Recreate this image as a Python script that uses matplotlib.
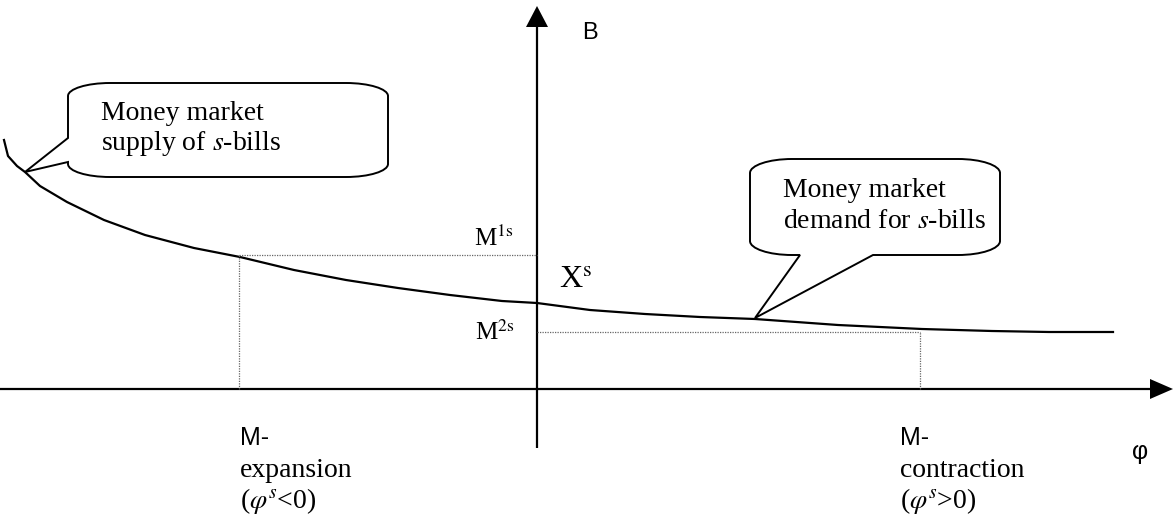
import matplotlib
matplotlib.use("Agg")
import matplotlib.pyplot as plt
from matplotlib.path import Path
from matplotlib.patches import PathPatch

plt.rcParams['mathtext.fontset'] = 'stix'

# ---- data (phi to the right of the B axis, B above the phi axis, in pixel-like units)
curve_phi = [-533, -529, -520, -512, -497, -470, -433, -392, -343, -297, -243, -191, -139,
             -87, -35, 0, 53, 108, 163, 218, 301, 385, 455, 512, 576]
curve_B = [249, 233, 223, 217, 203, 187, 169, 154, 141, 132, 119, 109, 101,
           94, 88, 86, 79, 75, 72, 70, 64, 60, 58, 57, 57]
phi_expansion = -298      # M-expansion point
phi_contraction = 383     # M-contraction point
B_M1 = 134                # M^1s level
B_M2 = 57                 # M^2s level

callout_left = ["Money market", "supply of $s$-bills"]
callout_right = ["Money market", "demand for $s$-bills"]
label_expansion = ["M-", "expansion", r"($\varphi^{s}$<0)"]
label_contraction = ["M-", "contraction", r"($\varphi^{s}$>0)"]

W, H = 1176, 518
OX, OY = 537, 389  # pixel position of origin


def p(x, y):
    """pixel (x right, y down) -> data coordinates"""
    return (x - OX, OY - y)


fig = plt.figure(figsize=(W / 100, H / 100), dpi=100)
ax = fig.add_axes([0, 0, 1, 1])
ax.set_xlim(-OX, W - OX)
ax.set_ylim(OY - H, OY)
ax.axis('off')

SERIF = 'Liberation Serif'
SANS = 'Liberation Sans'

# axes with arrow heads
ax.plot([-OX, 615], [0, 0], color='black', lw=1.6, solid_capstyle='butt')
ax.plot([0, 0], [-59, 362], color='black', lw=1.6, solid_capstyle='butt')
ax.fill([613, 613, 636], [10, -10, 0], color='black', lw=0)
ax.fill([-11, 11, 0], [362, 362, 383], color='black', lw=0)

# curve
ax.plot(curve_phi, curve_B, color='black', lw=1.6, solid_joinstyle='round')

# dotted guides
dot = dict(color='#666666', lw=0.9, linestyle=(0, (1, 1)))
ax.plot([phi_expansion, 0], [B_M1, B_M1], **dot)
ax.plot([phi_expansion, phi_expansion], [0, B_M1], **dot)
ax.plot([0, phi_contraction], [B_M2, B_M2], **dot)
ax.plot([phi_contraction, phi_contraction], [0, B_M2], **dot)


def corner(x0, y0, x1, y1, vertical_first):
    k = 0.55
    if vertical_first:
        c1 = (x0, y0 + (y1 - y0) * k)
        c2 = (x1 - (x1 - x0) * k, y1)
    else:
        c1 = (x0 + (x1 - x0) * k, y0)
        c2 = (x1, y1 - (y1 - y0) * k)
    return [c1, c2, (x1, y1)]


def callout_left_path(L, T, R, Bt, rx, ry, pb1, tip, pb2):
    verts, codes = [], []
    verts.append((L, T + ry)); codes.append(Path.MOVETO)
    verts += corner(L, T + ry, L + rx, T, True); codes += [Path.CURVE4] * 3
    verts.append((R - rx, T)); codes.append(Path.LINETO)
    verts += corner(R - rx, T, R, T + ry, False); codes += [Path.CURVE4] * 3
    verts.append((R, Bt - ry)); codes.append(Path.LINETO)
    verts += corner(R, Bt - ry, R - rx, Bt, True); codes += [Path.CURVE4] * 3
    verts.append((L + rx, Bt)); codes.append(Path.LINETO)
    verts += corner(L + rx, Bt, L, Bt - ry, False); codes += [Path.CURVE4] * 3
    verts.append(pb2); codes.append(Path.LINETO)
    verts.append(tip); codes.append(Path.LINETO)
    verts.append(pb1); codes.append(Path.LINETO)
    verts.append((L, T + ry)); codes.append(Path.LINETO)
    verts = [p(*v) for v in verts]
    return Path(verts, codes)


def callout_bottom_path(L, T, R, Bt, rx, ry, pb1, tip, pb2):
    verts, codes = [], []
    verts.append((L, T + ry)); codes.append(Path.MOVETO)
    verts += corner(L, T + ry, L + rx, T, True); codes += [Path.CURVE4] * 3
    verts.append((R - rx, T)); codes.append(Path.LINETO)
    verts += corner(R - rx, T, R, T + ry, False); codes += [Path.CURVE4] * 3
    verts.append((R, Bt - ry)); codes.append(Path.LINETO)
    verts += corner(R, Bt - ry, R - rx, Bt, True); codes += [Path.CURVE4] * 3
    verts.append(pb2); codes.append(Path.LINETO)
    verts.append(tip); codes.append(Path.LINETO)
    verts.append(pb1); codes.append(Path.LINETO)
    verts.append((L + rx, Bt)); codes.append(Path.LINETO)
    verts += corner(L + rx, Bt, L, Bt - ry, False); codes += [Path.CURVE4] * 3
    verts.append((L, T + ry)); codes.append(Path.LINETO)
    verts = [p(*v) for v in verts]
    return Path(verts, codes)


ax.add_patch(PathPatch(callout_left_path(68, 83, 388, 177, 42, 13,
                                         (68, 138), (25, 172), (68, 162)),
                       facecolor='white', edgecolor='black', lw=1.4, zorder=3,
                       joinstyle='miter'))
ax.add_patch(PathPatch(callout_bottom_path(750, 159, 1000, 255, 42, 14,
                                           (800, 255), (755, 318), (873, 255)),
                       facecolor='white', edgecolor='black', lw=1.4, zorder=3,
                       joinstyle='miter'))

# callout texts
fs = 20
for i, line in enumerate(callout_left):
    ax.text(*p(101, 120 + 30 * i), line, family=SERIF, fontsize=fs,
            ha='left', va='baseline', zorder=4)
for i, line in enumerate(callout_right):
    ax.text(*p(783, 197 + 31 * i), line, family=SERIF, fontsize=fs,
            ha='left', va='baseline', zorder=4)

# level labels
ax.text(*p(474, 246), r"M$^{\mathrm{1s}}$", family=SERIF, fontsize=18,
        ha='left', va='baseline')
ax.text(*p(475, 340), r"M$^{\mathrm{2s}}$", family=SERIF, fontsize=18,
        ha='left', va='baseline')
ax.text(*p(559, 288), r"X$^{\mathrm{s}}$", family=SERIF, fontsize=23,
        ha='left', va='baseline')

# axis labels
ax.text(*p(582, 39), "B", family=SANS, fontsize=17, ha='left', va='baseline')
ax.text(*p(1132, 459), "φ", family=SANS, fontsize=18, ha='left', va='baseline')

# bottom labels
for xs, lines in ((240, label_expansion), (900, label_contraction)):
    ax.text(*p(xs, 445), lines[0], family=SANS, fontsize=18, ha='left', va='baseline')
    ax.text(*p(xs, 477), lines[1], family=SERIF, fontsize=fs, ha='left', va='baseline')
    ax.text(*p(xs, 508), lines[2], family=SERIF, fontsize=fs, ha='left', va='baseline')

fig.savefig('out.png', dpi=100, facecolor='white')
